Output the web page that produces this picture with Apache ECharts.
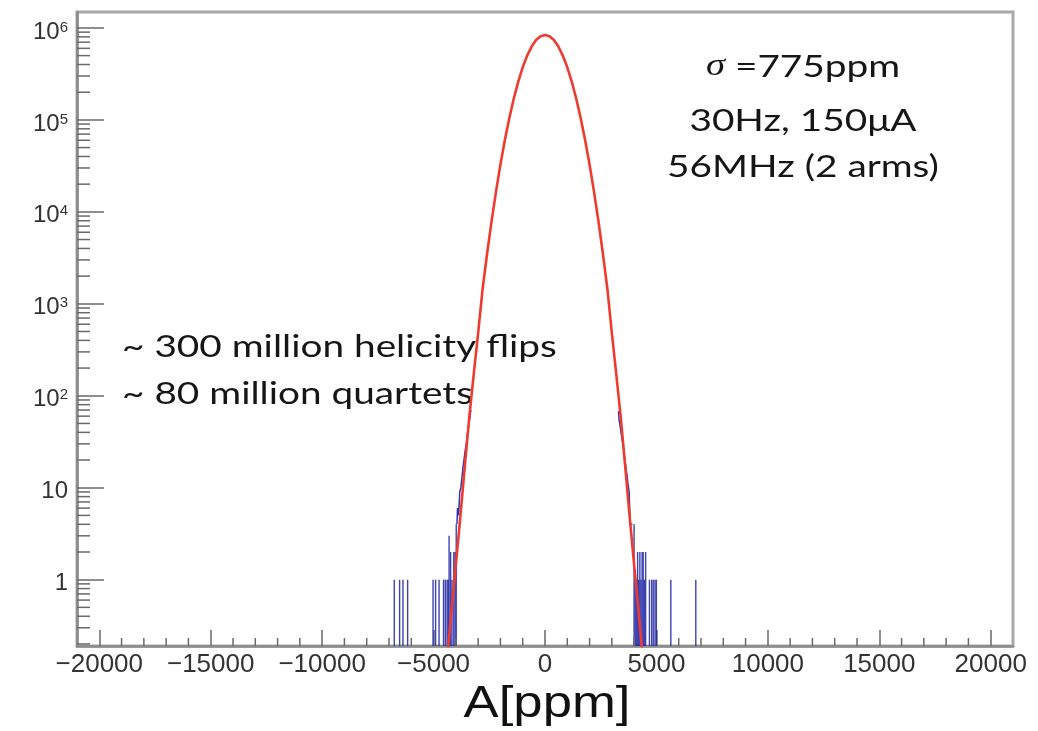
<!DOCTYPE html>
<html><head><meta charset="utf-8">
<script src="https://cdn.jsdelivr.net/npm/echarts@6/dist/echarts.min.js"></script>
<style>html,body{margin:0;padding:0;background:#fff}#c{width:1038px;height:731px}</style>
</head><body><div id="c"></div>
<script>
// ---- axis ranges & tick labels ----
const xMin = -21000, xMax = 21000;
const yMin = 0.19, yMax = 1.49e6;
const xTickValues = [-20000, -15000, -10000, -5000, 0, 5000, 10000, 15000, 20000];
const xTickLabels = ['\u221220000', '\u221215000', '\u221210000', '\u22125000', '0', '5000', '10000', '15000', '20000'];
const yTickLabels = ['1', '10', '10^2', '10^3', '10^4', '10^5', '10^6'];

// ---- Gaussian fit curve ----
const fitX = [-4400, -4200, -4000, -3800, -3600, -3400, -3200, -3000, -2800, -2600, -2400, -2200, -2000, -1800,
              -1600, -1400, -1200, -1000, -800, -600, -400, -200, 0,
              200, 400, 600, 800, 1000, 1200, 1400, 1600, 1800, 2000, 2200, 2400, 2600, 2800, 3000,
              3200, 3400, 3600, 3800, 4000, 4200, 4400];
const fitY = [0.13, 0.45, 1.45, 4.8, 17, 58, 170, 480, 1450, 3480, 7840, 16500, 32700, 60500,
              105000, 171000, 261000, 373000, 500000, 627000, 738000, 813000, 840000,
              813000, 738000, 627000, 500000, 373000, 261000, 171000, 105000, 60500, 32700, 16500, 7840, 3480, 1450, 480,
              170, 58, 17, 4.8, 1.45, 0.45, 0.13];

// ---- histogram outline near the tails ----
const histLX = [-3950, -3900, -3850, -3800, -3750, -3700, -3650, -3600, -3550, -3500, -3450, -3400, -3350, -3300];
const histLY = [4, 6, 5, 9, 10, 13, 17, 21, 26, 31, 39, 47, 57, 70];
const histRX = [3300, 3350, 3400, 3450, 3500, 3550, 3600, 3650, 3700, 3750, 3800, 3850, 3900, 3950];
const histRY = [68, 55, 46, 38, 32, 27, 21, 17, 14, 11, 9, 4, 4, 4];

// ---- sparse tail bins (counts) ----
const binX = [-6770, -6530, -6380, -6170, -5030, -4915, -4760, -4560, -4480, -4400, -4350, -4310, -4240, -4180, -4100, -4040, -3990,
              3990, 4040, 4090, 4150, 4200, 4250, 4300, 4350, 4400, 4450, 4510, 4680, 4780, 4850, 4930, 4990, 5640, 6760];
const binN = [1, 1, 1, 1, 1, 1, 1, 1, 1, 1, 1, 3, 2, 1, 2, 2, 4,
              4, 1, 1, 2, 1, 2, 1, 2, 2, 1, 2, 1, 1, 1, 1, 1, 1, 1];

// ---- annotations ----
const noteRight = ['{i|\u03c3} =775ppm', '30Hz, 150\u03bcA', '56MHz (2 arms)'];
const noteLeft = ['~ 300 million helicity flips', '~ 80 million quartets'];
const xTitle = 'A[ppm]';

const fitData = fitX.map((x, i) => [x, fitY[i]]);
const histData = histLX.map((x, i) => [x, histLY[i]]).concat([[null, null]], histRX.map((x, i) => [x, histRY[i]]));
const binData = binX.map((x, i) => [x, binN[i]]);

const yMinorData = [];
for (let k = -1; k <= 6; k++) for (let m = 2; m <= 9; m++) {
  const v = m * Math.pow(10, k);
  if (v >= yMin && v <= yMax) yMinorData.push([xMin, v]);
}
const xMinorData = [];
for (let v = -20000; v <= 20000; v += 1000) if (v % 5000 !== 0) xMinorData.push([v, yMin]);

const BIN_W = 50;
const tickColor = '#6a6a6a';
const noteRightY = [67, 121, 167];
const chart = echarts.init(document.getElementById('c'), null, {renderer: 'canvas'});

function gridRect(params) {
  const c = params.coordSys;
  return {x: c.x, y: c.y, width: c.width, height: c.height};
}

chart.setOption({
  animation: false,
  backgroundColor: '#ffffff',
  grid: {left: 77, right: 25, top: 12, bottom: 85, show: true, borderColor: '#a8a8a8', borderWidth: 3},
  xAxis: {
    type: 'value', min: xMin, max: xMax, splitNumber: 8,
    axisLine: {show: true, onZero: false, lineStyle: {color: '#8a8a8a', width: 2.5}},
    axisTick: {show: true, inside: true, length: 16, lineStyle: {color: tickColor, width: 1.5}},
    axisLabel: {
      show: true, margin: 6, fontFamily: 'Liberation Sans', fontSize: 26, color: '#333',
      showMinLabel: false, showMaxLabel: false,
      formatter: v => { const i = xTickValues.indexOf(Math.round(v)); return i >= 0 ? xTickLabels[i] : ''; }
    },
    splitLine: {show: false}
  },
  yAxis: {
    type: 'log', logBase: 10, min: yMin, max: yMax, splitNumber: 7,
    axisLine: {show: true, onZero: false, lineStyle: {color: '#8a8a8a', width: 2.5}},
    axisTick: {show: true, inside: true, length: 27, lineStyle: {color: tickColor, width: 1.5}},
    axisLabel: {
      show: true, margin: 9, fontFamily: 'Liberation Sans', fontSize: 24, color: '#333',
      showMinLabel: false, showMaxLabel: false, padding: [8, 0, 0, 0],
      formatter: v => {
        const e = Math.log10(v), r = Math.round(e);
        if (Math.abs(e - r) > 1e-6 || r < 0 || r >= yTickLabels.length) return '';
        return yTickLabels[r].replace(/\^(\d+)/, '{s|$1}');
      },
      rich: {s: {fontFamily: 'Liberation Sans', fontSize: 15, color: '#333', verticalAlign: 'top'}}
    },
    splitLine: {show: false}
  },
  series: [
    {
      type: 'custom', name: 'tailBins', data: binData, z: 2, silent: true,
      renderItem: (params, api) => {
        const x = api.value(0), n = api.value(1);
        const p0 = api.coord([x - BIN_W / 2, n]);
        const p1 = api.coord([x + BIN_W / 2, yMin]);
        const r = echarts.graphic.clipRectByRect(
          {x: p0[0], y: p0[1], width: Math.max(p1[0] - p0[0], 1.4), height: p1[1] - p0[1]}, gridRect(params));
        return r ? {type: 'rect', shape: r, style: {fill: 'rgba(28,34,165,0.85)'}} : null;
      }
    },
    {
      type: 'line', name: 'hist', data: histData, step: 'middle', symbol: 'none', z: 2, silent: true,
      connectNulls: false,
      lineStyle: {color: '#2a35b5', width: 1.5}
    },
    {
      type: 'line', name: 'fit', data: fitData, smooth: false, symbol: 'none', z: 3, silent: true,
      lineStyle: {color: '#ef3b2f', width: 2.6, join: 'round'}
    },
    {
      type: 'custom', name: 'yMinorTicks', data: yMinorData, z: 4, silent: true,
      renderItem: (params, api) => {
        const p = api.coord([api.value(0), api.value(1)]);
        return {type: 'line', shape: {x1: p[0], y1: p[1], x2: p[0] + 13, y2: p[1]},
                style: {stroke: tickColor, lineWidth: 1.5}};
      }
    },
    {
      type: 'custom', name: 'xMinorTicks', data: xMinorData, z: 4, silent: true,
      renderItem: (params, api) => {
        const p = api.coord([api.value(0), api.value(1)]);
        const yb = params.coordSys.y + params.coordSys.height;
        return {type: 'line', shape: {x1: p[0], y1: yb, x2: p[0], y2: yb - 8},
                style: {stroke: tickColor, lineWidth: 1.5}};
      }
    }
  ],
  graphic: [
    ...noteRight.map((t, i) => ({
      type: 'text', x: 803, y: noteRightY[i], scaleX: 1.25, silent: true,
      style: {text: t, fontFamily: 'Lato', fontSize: 31, fill: '#161616', align: 'center', verticalAlign: 'middle',
              textAlign: 'center', textVerticalAlign: 'middle',
              rich: {i: {fontFamily: 'Liberation Serif', fontStyle: 'italic', fontSize: 31, fill: '#161616'}}}
    })),
    ...noteLeft.map((t, i) => ({
      type: 'text', x: 122, y: 347 + i * 47, scaleX: 1.25, silent: true,
      style: {text: t, fontFamily: 'Lato', fontSize: 31, fill: '#161616', align: 'left', verticalAlign: 'middle',
              textAlign: 'left', textVerticalAlign: 'middle'}
    })),
    {
      type: 'text', x: 547, y: 705, scaleX: 1.17, silent: true,
      style: {text: xTitle, fontFamily: 'Liberation Sans', fontSize: 45, fill: '#111', align: 'center', verticalAlign: 'middle',
              textAlign: 'center', textVerticalAlign: 'middle'}
    }
  ]
});
</script>
</body></html>
